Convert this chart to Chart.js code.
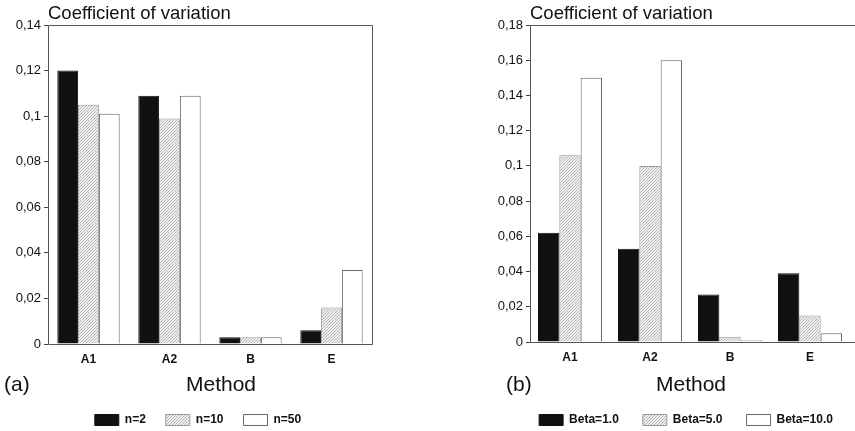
<!DOCTYPE html>
<html>
<head>
<meta charset="utf-8">
<script src="https://cdn.jsdelivr.net/npm/chart.js@4"></script>
<style>
  html, body { margin: 0; padding: 0; background: #fff; overflow: hidden; }
  body { width: 855px; height: 431px; position: relative; font-family: "Liberation Sans", Arial, sans-serif; color: #111; }
  .panel { position: absolute; top: 0; height: 436px; }
  .txt { position: absolute; white-space: nowrap; line-height: 1; }
  .ctitle { font-size: 18.5px; top: 4px; }
  .big { font-size: 21px; top: 373px; }
</style>
</head>
<body>
<div class="panel" style="left:0;width:396px"><canvas id="chartA"></canvas></div>
<div class="panel" style="left:482px;width:408px"><canvas id="chartB"></canvas></div>

<div class="txt ctitle" style="left:48px">Coefficient of variation</div>
<div class="txt ctitle" style="left:530px">Coefficient of variation</div>
<div class="txt big" style="left:4px">(a)</div>
<div class="txt big" style="left:186px">Method</div>
<div class="txt big" style="left:506px">(b)</div>
<div class="txt big" style="left:656px">Method</div>

<script>
const methods = ['A1', 'A2', 'B', 'E'];

const sampleLabels = ['n=2', 'n=10', 'n=50'];
const n2 = [0.120, 0.109, 0.003, 0.006];
const n10 = [0.105, 0.099, 0.003, 0.016];
const n50 = [0.101, 0.109, 0.003, 0.0325];

const betaLabels = ['Beta=1.0', 'Beta=5.0', 'Beta=10.0'];
const beta1 = [0.062, 0.053, 0.027, 0.039];
const beta5 = [0.106, 0.100, 0.003, 0.015];
const beta10 = [0.150, 0.160, 0.001, 0.005];

// light grey diagonal hatching like the scanned figure
function hatch() {
    const c = document.createElement('canvas');
    c.width = 3;
    c.height = 3;
    const g = c.getContext('2d');
    g.fillStyle = '#f0f0f0';
    g.fillRect(0, 0, 3, 3);
    g.fillStyle = '#b4b4b4';
    g.fillRect(2, 0, 1, 1);
    g.fillRect(1, 1, 1, 1);
    g.fillRect(0, 2, 1, 1);
    return g.createPattern(c, 'repeat');
}

// box round the plot; panel (b) is cut off on the right in the scan
const frame = {
    id: 'frame',
    afterDatasetsDraw(chart, args, opts) {
        const a = chart.chartArea;
        const ctx = chart.ctx;
        const l = Math.round(a.left) + 0.5;
        const t = Math.round(a.top) + 0.5;
        const b = Math.round(a.bottom) + 0.5;
        const r = opts.open ? chart.width : Math.round(a.right) + 0.5;
        ctx.save();
        ctx.strokeStyle = '#555';
        ctx.lineWidth = 1;
        ctx.beginPath();
        ctx.moveTo(r, t);
        ctx.lineTo(l, t);
        ctx.lineTo(l, b);
        ctx.lineTo(r, b);
        if (!opts.open) ctx.lineTo(r, t);
        ctx.stroke();
        ctx.restore();
    }
};

function tickText(v) {
    return String(+v.toFixed(2)).replace('.', ',');
}

function makeChart(id, labels, series, yMax, spacerRight, catPct, legendGap, xHeight, open) {
    const fills = ['#111', hatch(), '#fff'];
    const borders = ['#111', '#999', '#666'];
    new Chart(document.getElementById(id), {
        type: 'bar',
        data: {
            labels: methods,
            datasets: series.map((s, i) => ({
                label: labels[i],
                data: s,
                backgroundColor: fills[i],
                borderColor: borders[i],
                borderWidth: 1,
                categoryPercentage: catPct,
                barPercentage: 1.0
            }))
        },
        options: {
            responsive: true,
            maintainAspectRatio: false,
            animation: false,
            layout: { padding: { top: 25, right: 0, left: 0, bottom: 0 } },
            plugins: {
                tooltip: { enabled: false },
                title: { display: false },
                frame: { open: open },
                legend: {
                    position: 'bottom',
                    labels: {
                        boxWidth: 24,
                        boxHeight: 11,
                        padding: legendGap,
                        color: '#111',
                        font: { family: 'Liberation Sans', size: 12, weight: 'bold' }
                    }
                }
            },
            scales: {
                x: {
                    grid: { display: false },
                    border: { display: false },
                    ticks: {
                        padding: 0,
                        color: '#111',
                        font: { family: 'Liberation Sans', size: 12, weight: 'bold' }
                    },
                    afterFit(scale) { scale.height = xHeight; }
                },
                y: {
                    min: 0,
                    max: yMax,
                    border: { display: false },
                    grid: { drawOnChartArea: false, tickLength: 4, color: '#444' },
                    ticks: {
                        stepSize: 0.02,
                        padding: 3,
                        color: '#111',
                        font: { family: 'Liberation Sans', size: 13 },
                        callback: v => tickText(v)
                    },
                    afterFit(scale) { scale.width = 48; }
                },
                // empty right-hand axis: keeps the plot narrower than the legend row
                spacer: {
                    type: 'linear',
                    position: 'right',
                    grid: { display: false },
                    border: { display: false },
                    ticks: { display: false },
                    afterFit(scale) { scale.width = spacerRight; }
                }
            }
        },
        plugins: [frame]
    });
}

makeChart('chartA', sampleLabels, [n2, n10, n50], 0.14, 24, 0.77, 20, 50, false);
makeChart('chartB', betaLabels, [beta1, beta5, beta10], 0.18, 40, 0.8, 24, 48, true);
</script>
</body>
</html>
